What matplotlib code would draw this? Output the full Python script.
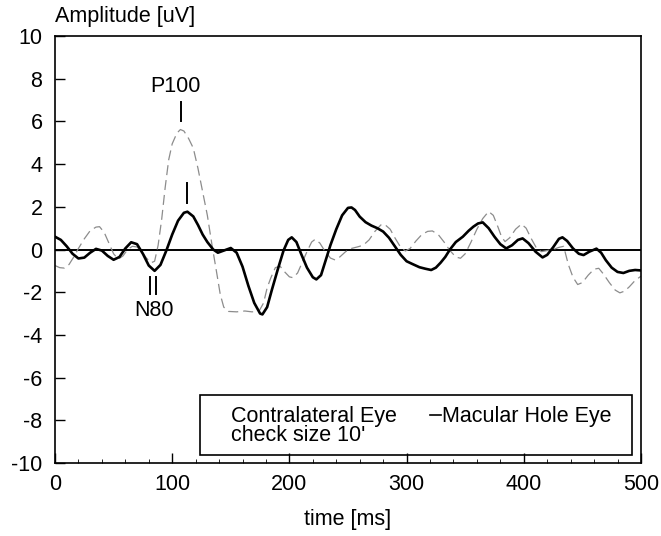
import matplotlib
matplotlib.use("Agg")
import matplotlib.pyplot as plt
from matplotlib.patches import Rectangle

plt.rcParams['font.family'] = ['Liberation Sans', 'DejaVu Sans']
plt.rcParams['axes.unicode_minus'] = False
FS = 15.5

# macular hole eye (solid)
t_hole = [0, 5, 10, 15, 20, 25, 30, 35, 40, 45, 50, 55, 60, 65, 70, 75, 80, 85,
          90, 95, 100, 105, 110, 113, 118, 122, 126, 130, 135, 139, 144, 150, 155,
          160, 165, 170, 175, 177, 181, 185, 190, 195, 199, 202, 206, 210, 215, 220,
          223, 227, 231, 235, 240, 245, 250, 253, 256, 260, 265, 270, 275, 280, 285,
          290, 295, 300, 305, 311, 316, 321, 325, 329, 333, 337, 342, 348, 353, 357,
          361, 365, 370, 375, 380, 385, 390, 395, 399, 404, 410, 416, 420, 425, 430,
          433, 437, 442, 447, 451, 456, 462, 466, 470, 475, 480, 485, 490, 495, 500]
v_hole = [0.60, 0.45, 0.15, -0.20, -0.42, -0.38, -0.15, 0.03, -0.05, -0.30, -0.48, -0.35,
          0.05, 0.34, 0.25, -0.20, -0.75, -1.00, -0.72, -0.05, 0.70, 1.35, 1.72, 1.77,
          1.55, 1.15, 0.70, 0.35, 0.00, -0.15, -0.05, 0.07, -0.15, -0.80, -1.70, -2.50,
          -3.00, -3.04, -2.70, -1.90, -0.95, -0.05, 0.45, 0.57, 0.35, -0.20, -0.85, -1.30,
          -1.40, -1.20, -0.50, 0.20, 0.95, 1.60, 1.95, 1.97, 1.85, 1.54, 1.28, 1.12, 1.00,
          0.84, 0.55, 0.15, -0.25, -0.55, -0.68, -0.83, -0.90, -0.96, -0.85, -0.62, -0.35,
          0.00, 0.35, 0.60, 0.88, 1.07, 1.22, 1.27, 1.00, 0.60, 0.25, 0.05, 0.20, 0.45,
          0.52, 0.30, -0.10, -0.37, -0.25, 0.10, 0.50, 0.57, 0.40, 0.05, -0.20, -0.26,
          -0.10, 0.04, -0.15, -0.50, -0.85, -1.05, -1.10, -1.00, -0.96, -0.98]

# contralateral eye (dashed grey)
t_contra = [0, 4, 8, 12, 16, 20, 25, 30, 35, 38, 42, 46, 50, 54, 58, 62, 66, 70, 74, 78,
            82, 85, 88, 91, 94, 97, 100, 104, 107, 110, 114, 118, 122, 126, 130, 134, 138,
            141, 144, 148, 155, 162, 168, 174, 178, 181, 184, 188, 192, 196, 200, 203, 207,
            211, 215, 219, 222, 226, 230, 235, 239, 243, 248, 253, 258, 263, 268, 273, 278,
            281, 286, 290, 295, 299, 303, 308, 313, 318, 322, 327, 332, 337, 342, 346, 350,
            355, 360, 365, 370, 374, 378, 381, 384, 388, 393, 398, 402, 406, 411, 415, 420,
            425, 430, 434, 438, 442, 446, 450, 455, 460, 464, 468, 473, 478, 482, 486, 490,
            495, 500]
v_contra = [-0.75, -0.85, -0.87, -0.70, -0.35, 0.05, 0.50, 0.88, 1.05, 1.07, 0.80, 0.30,
            -0.20, -0.45, -0.30, 0.00, 0.15, 0.12, -0.10, -0.40, -0.62, -0.55, 0.20, 1.40,
            2.90, 4.20, 4.95, 5.45, 5.62, 5.55, 5.20, 4.75, 3.80, 2.70, 1.60, 0.20, -1.10,
            -2.10, -2.70, -2.90, -2.92, -2.88, -2.92, -2.90, -2.50, -1.80, -1.35, -0.85,
            -0.78, -1.05, -1.28, -1.32, -1.10, -0.60, -0.10, 0.35, 0.48, 0.30, -0.05, -0.40,
            -0.49, -0.35, -0.10, 0.05, 0.12, 0.20, 0.45, 0.85, 1.15, 1.19, 0.95, 0.55, 0.10,
            -0.07, 0.05, 0.40, 0.70, 0.85, 0.87, 0.70, 0.35, -0.05, -0.35, -0.41, -0.20,
            0.35, 0.95, 1.45, 1.78, 1.60, 1.05, 0.60, 0.37, 0.55, 0.95, 1.19, 1.00, 0.55,
            0.05, -0.10, -0.05, 0.00, 0.10, 0.15, -0.70, -1.30, -1.64, -1.55, -1.20, -0.92,
            -0.88, -1.15, -1.55, -1.90, -2.03, -1.95, -1.75, -1.45, -1.25]

fig = plt.figure(figsize=(6.61, 5.36), dpi=100)
ax = fig.add_axes([0.0832, 0.1362, 0.8865, 0.7966])

ax.axhline(0, color='black', lw=1.4, zorder=1)
ax.plot(t_contra, v_contra, color='#8c8c8c', lw=0.9, dashes=(8, 4), zorder=2)
ax.plot(t_hole, v_hole, color='black', lw=1.9, zorder=3)

# peak markers
ax.plot([107.5, 107.5], [6.0, 6.9], color='black', lw=1.4)
ax.plot([112.6, 112.6], [2.2, 3.1], color='black', lw=1.4)
ax.plot([81.0, 81.0], [-1.3, -2.1], color='black', lw=1.4)
ax.plot([86.2, 86.2], [-1.3, -2.1], color='black', lw=1.4)
ax.text(102.4, 7.38, 'P100', ha='center', va='baseline', fontsize=FS)
ax.text(84.5, -3.11, 'N80', ha='center', va='baseline', fontsize=FS)

ax.set_xlim(0, 500)
ax.set_ylim(-10, 10)
ax.set_xticks(range(0, 501, 100))
ax.set_xticks(range(0, 501, 20), minor=True)
ax.set_yticks(range(-10, 11, 2))
ax.tick_params(axis='both', which='major', direction='in', labelsize=FS, width=1)
ax.tick_params(axis='x', which='major', length=7, pad=8)
ax.tick_params(axis='y', which='major', length=7, pad=9)
ax.tick_params(axis='x', which='minor', direction='in', length=3)
for s in ax.spines.values():
    s.set_linewidth(1.2)

ax.set_xlabel('time [ms]', fontsize=FS)
ax.xaxis.set_label_coords(0.5, -0.108)
ax.text(0.0, 1.0335, 'Amplitude [uV]', transform=ax.transAxes, ha='left', va='baseline',
        fontsize=FS)

# legend box
ax.add_patch(Rectangle((123.7, -9.63), 368.3, 2.82, fill=False, edgecolor='black',
                       lw=1.2, zorder=4))
ax.text(150.5, -8.07, 'Contralateral Eye', ha='left', va='baseline', fontsize=FS)
ax.plot([320, 329.5], [-7.75, -7.75], color='black', lw=1.2)
ax.text(330.2, -8.07, 'Macular Hole Eye', ha='left', va='baseline', fontsize=FS)
ax.text(150.5, -8.96, "check size 10'", ha='left', va='baseline', fontsize=FS)

fig.savefig('out.png', dpi=100)
